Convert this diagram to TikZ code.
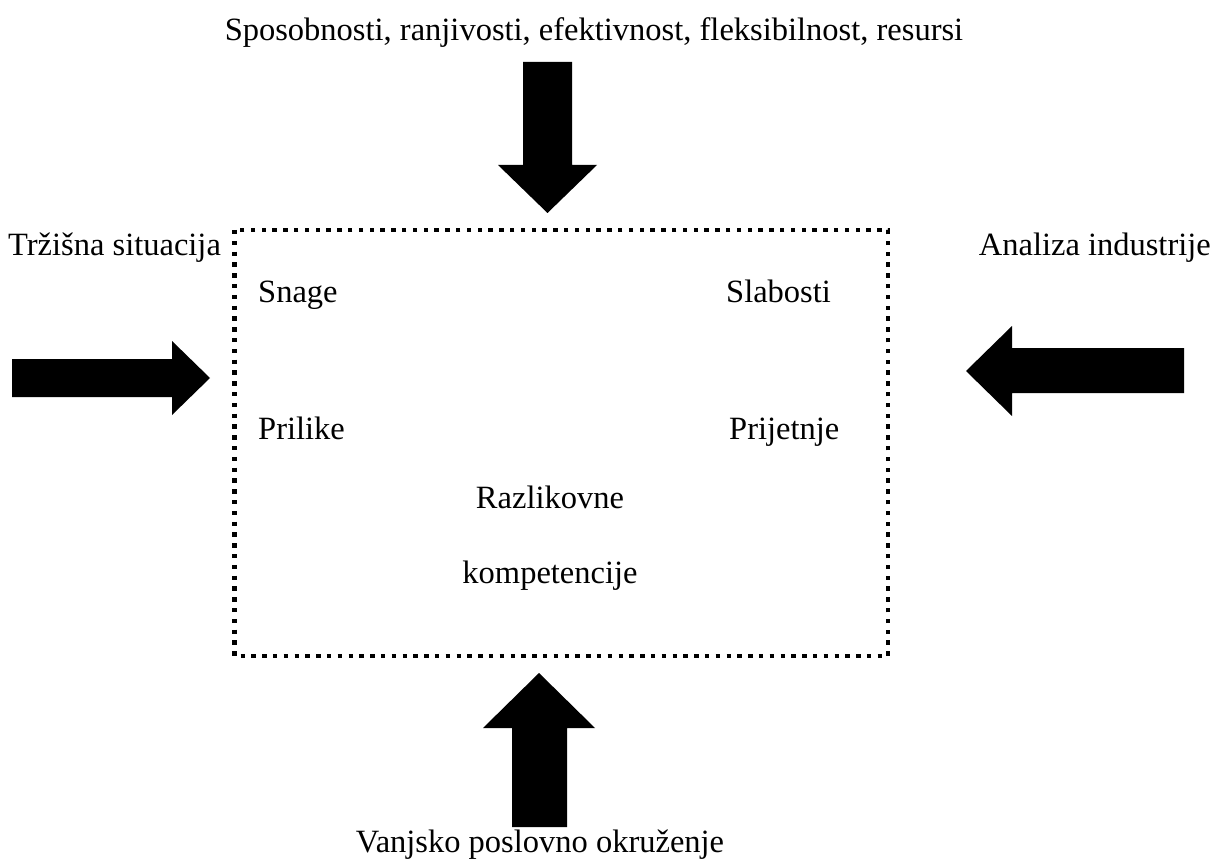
\documentclass[tikz,border=0pt]{standalone}
\usepackage{fontspec}
\setmainfont{Liberation Serif}

\begin{document}
\begin{tikzpicture}[x=1pt,y=-1pt,
    txt/.style={inner sep=0pt,font=\fontsize{32.5}{39}\selectfont},
    blockarrow/.style={fill=black,draw=none}]
      \useasboundingbox (0,0) rectangle (1219,861) ;
      % dotted frame
      \draw[line width=4.4pt,dash pattern=on 4.4pt off 6.4pt] %
      (234.5,230) rectangle (888,656) ;
      % the four thick arrows
      \fill[blockarrow] (523,62)--(572,62)--(572,165)--(597,165)--(547.5,213)%
      --(498,165)--(523,165)--cycle ;
      \fill[blockarrow] (512,827)--(567,827)--(567,728)--(595,728)--(539,673)%
      --(483,728)--(512,728)--cycle ;
      \fill[blockarrow] (12,359)--(172,359)--(172,341)--(210,378)--(172,415)%
      --(172,397)--(12,397)--cycle ;
      \fill[blockarrow] (1184,348)--(1012,348)--(1012,326)--(966,371)--(1012,416)%
      --(1012,393)--(1184,393)--cycle ;
      % outside texts
      \node[txt,anchor=base] (resursi) at (594,41) %
      {Sposobnosti, ranjivosti, efektivnost, fleksibilnost, resursi} ;
      \node[txt,anchor=base west] (trziste) at (8,256) {Tržišna situacija} ;
      \node[txt,anchor=base east] (industrija) at (1211,256) {Analiza industrije} ;
      \node[txt,anchor=base] (okruzenje) at (540,852) {Vanjsko poslovno okruženje} ;
      % inside texts
      \node[txt,anchor=base west] (snage) at (258,302) {Snage} ;
      \node[txt,anchor=base west] (slabosti) at (726,302) {Slabosti} ;
      \node[txt,anchor=base west] (prilike) at (258,439) {Prilike} ;
      \node[txt,anchor=base west] (prijetnje) at (729,439) {Prijetnje} ;
      \node[txt,anchor=base] (razlikovne) at (550,508) {Razlikovne} ;
      \node[txt,anchor=base] (kompetencije) at (550,583) {kompetencije} ;
    \end{tikzpicture}
\end{document}
